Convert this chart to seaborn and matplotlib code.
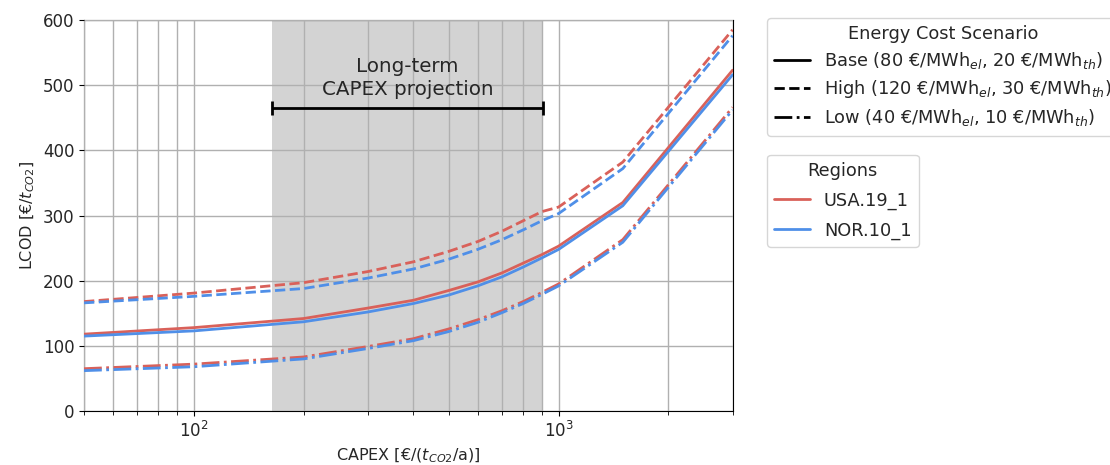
import pandas as pd
import seaborn as sns
import matplotlib.pyplot as plt
from matplotlib.lines import Line2D
from matplotlib.ticker import NullFormatter

# CAPEX values [€/(t_CO2/a)]
capex = [50, 100, 200, 300, 400, 500, 600, 700, 800, 900, 1000, 1500, 3000]

# LCOD [€/t_CO2]
usa_base = [118, 128, 142, 158, 170, 185, 198, 212, 227, 240, 253, 320, 523]
nor_base = [115, 123, 137, 152, 165, 178, 192, 206, 221, 235, 248, 315, 516]
usa_high = [168, 181, 197, 214, 229, 245, 260, 276, 292, 306, 313, 382, 585]
nor_high = [166, 176, 188, 204, 218, 233, 248, 263, 278, 292, 303, 372, 576]
usa_low = [65, 72, 83, 99, 111, 126, 140, 154, 168, 182, 195, 263, 466]
nor_low = [62, 68, 80, 96, 108, 122, 136, 151, 165, 179, 192, 259, 462]

regions = ["USA.19_1", "NOR.10_1"]
scenarios = ["Base", "High", "Low"]
scenario_labels = [
    "Base (80 €/MWh$_{el}$, 20 €/MWh$_{th}$)",
    "High (120 €/MWh$_{el}$, 30 €/MWh$_{th}$)",
    "Low (40 €/MWh$_{el}$, 10 €/MWh$_{th}$)",
]
proj_lo, proj_hi = 164, 904

colors = {"USA.19_1": "#d9615a", "NOR.10_1": "#4f8fe8"}
dashes = {"Base": "", "High": (3.7, 1.6), "Low": (6.4, 1.6, 1, 1.6)}

series = {
    ("USA.19_1", "Base"): usa_base, ("NOR.10_1", "Base"): nor_base,
    ("USA.19_1", "High"): usa_high, ("NOR.10_1", "High"): nor_high,
    ("USA.19_1", "Low"): usa_low, ("NOR.10_1", "Low"): nor_low,
}
rows = []
for (reg, sc), vals in series.items():
    for x, y in zip(capex, vals):
        rows.append({"CAPEX": x, "LCOD": y, "Region": reg, "Scenario": sc})
df = pd.DataFrame(rows)

sns.set_style("ticks")
plt.rcParams["font.family"] = ["DejaVu Sans"]

fig = plt.figure(figsize=(11.1, 4.65), dpi=100)
ax = fig.add_axes([0.0757, 0.116, 0.5843, 0.841])

ax.axvspan(proj_lo, proj_hi, color="#d3d3d3", zorder=0.5, lw=0)

sns.lineplot(data=df, x="CAPEX", y="LCOD", hue="Region", style="Scenario",
             palette=colors, dashes=dashes, hue_order=regions,
             style_order=scenarios, lw=2, legend=False, ax=ax, zorder=3)

ax.set_xscale("log")
ax.set_xlim(50, 3000)
ax.set_ylim(0, 600)
ax.xaxis.set_minor_formatter(NullFormatter())
ax.grid(True, which="both", color="#b0b0b0", lw=1.0)
ax.set_axisbelow(False)
for gl in ax.get_xgridlines() + ax.get_ygridlines():
    gl.set_zorder(1)
for sp in ax.spines.values():
    sp.set_color("black")
ax.tick_params(labelsize=12, color="black")
ax.tick_params(which="minor", length=3, color="black")

ax.set_xlabel("CAPEX [€/($t_{CO2}$/a)]", fontsize=11.5)
ax.set_ylabel("LCOD [€/$t_{CO2}$]", fontsize=11.5)

center = (proj_lo * proj_hi) ** 0.5
ax.errorbar([center], [465], xerr=[[center - proj_lo], [proj_hi - center]],
            color="black", lw=2, capsize=5, capthick=2, zorder=4)
ax.text(center, 511, "Long-term\nCAPEX projection", ha="center", va="center",
        fontsize=14.3, linespacing=1.25, zorder=4)

h1 = [Line2D([], [], color="black", lw=2, linestyle=ls)
      for ls in ["-", "--", "-."]]
leg1 = ax.legend(h1, scenario_labels, title="Energy Cost Scenario",
                 loc="upper left", bbox_to_anchor=(1.053, 1.005),
                 fontsize=12.8, title_fontsize=12.8, handlelength=2,
                 borderaxespad=0, labelspacing=0.4)
ax.add_artist(leg1)
h2 = [Line2D([], [], color=colors[r], lw=2) for r in regions]
ax.legend(h2, regions, title="Regions", loc="upper left",
          bbox_to_anchor=(1.053, 0.655), fontsize=12.8, title_fontsize=12.8,
          handlelength=2, borderaxespad=0, labelspacing=0.65)

fig.savefig("out.png", dpi=100)
